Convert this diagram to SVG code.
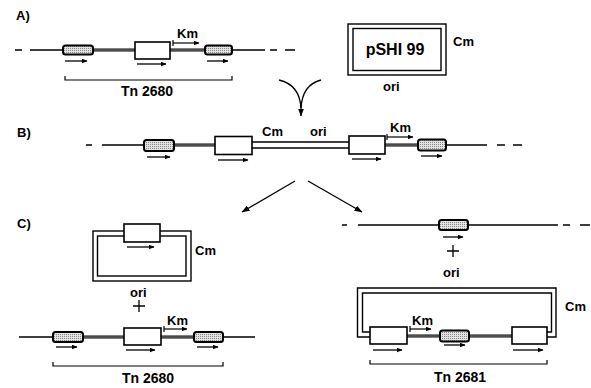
<svg xmlns="http://www.w3.org/2000/svg" width="591" height="388" viewBox="0 0 591 388">
<style>
.ln{stroke:#000;stroke-width:1.3;fill:none}
.tn{stroke:#000;stroke-width:3.2;fill:none}
.tnc{stroke:#aaa;stroke-width:0.9;fill:none}
.pl{stroke:#000;stroke-width:1.4;fill:none}
.gb{fill:url(#stip);stroke:#000;stroke-width:2}
.wb{fill:#fff;stroke:#000;stroke-width:1.6}
.ar{stroke:#000;stroke-width:1.3;fill:none;marker-end:url(#ah)}
.km{stroke:#000;stroke-width:1.2;fill:none;marker-end:url(#ah);marker-start:url(#bar)}
.t{font-family:"Liberation Sans",Arial,sans-serif;font-weight:bold;font-size:13px;fill:#000}
.big{font-size:14px}
.pb{font-size:16px}
.br{stroke:#000;stroke-width:1.2;fill:none}
</style>
<defs>
<pattern id="stip" width="2" height="2" patternUnits="userSpaceOnUse"><rect width="2" height="2" fill="#e2e2e2"/><rect width="1" height="1" fill="#888"/></pattern>
<marker id="ah" markerWidth="6" markerHeight="5" refX="5.5" refY="2.5" orient="auto" markerUnits="userSpaceOnUse"><path d="M0,0 L6,2.5 L0,5 z" fill="#000"/></marker>
<marker id="ah2" markerWidth="8" markerHeight="6" refX="7.5" refY="3" orient="auto" markerUnits="userSpaceOnUse"><path d="M0,0 L8,3 L0,6 z" fill="#000"/></marker>
<marker id="bar" markerWidth="2" markerHeight="6" refX="1" refY="3" orient="auto" markerUnits="userSpaceOnUse"><path d="M1,0 V6" stroke="#000" stroke-width="1.2"/></marker>
</defs>

<!-- Section A -->
<text class="t" x="16" y="20">A)</text>
<g id="a-tn2680">
<path class="ln" d="M15,50 H22 M30,50 H63 M232,50 H265 M270,50 H277 M285,50 H295"/>
<path class="tn" d="M93,50 H135 M170,50 H205"/>
<path class="tnc" d="M93,50 H135 M170,50 H205"/>
<rect class="gb" x="63" y="45.5" width="30" height="9" rx="2.5"/>
<rect class="wb" x="135" y="42" width="35" height="17"/>
<rect class="gb" x="205" y="45.5" width="27" height="9" rx="2.5"/>
<path class="ar" d="M65,61 H87"/>
<path class="ar" d="M137,64 H166"/>
<path class="ar" d="M207,61 H228"/>
<path class="km" d="M173,43 H199"/>
<text class="t" x="177" y="38">Km</text>
<path class="br" d="M65,76 V80 H232 V76"/>
<text class="t big" x="147" y="96" text-anchor="middle">Tn 2680</text>
</g>
<g id="a-pshi99">
<rect class="pl" x="348" y="24" width="98" height="51"/>
<rect class="pl" x="353" y="28.5" width="88" height="42"/>
<text class="t pb" x="395" y="55" text-anchor="middle">pSHI 99</text>
<text class="t" x="453" y="46">Cm</text>
<text class="t" x="383" y="91">ori</text>
</g>

<!-- Section B -->
<text class="t" x="17" y="137">B)</text>
<g id="b-cointegrate">
<path class="ln" d="M86,145 H92 M102,145 H144 M446,145 H487 M497,145 H505 M513,145 H522"/>
<path class="tn" d="M174,145 H215 M385,145 H418"/>
<path class="tnc" d="M174,145 H215 M385,145 H418"/>
<path class="pl" d="M252,142 H349 M252,148 H349"/>
<rect class="gb" x="144" y="140" width="30" height="11" rx="2.5"/>
<rect class="wb" x="215" y="136.5" width="37" height="18"/>
<rect class="wb" x="349" y="136" width="36" height="18"/>
<rect class="gb" x="418" y="139.5" width="28" height="11" rx="2.5"/>
<path class="ar" d="M147,157 H170"/>
<path class="ar" d="M218,160 H248"/>
<path class="ar" d="M352,159 H381"/>
<path class="ar" d="M421,156 H442"/>
<path class="km" d="M387,137 H413"/>
<text class="t" x="390" y="132">Km</text>
<text class="t" x="262" y="136">Cm</text>
<text class="t" x="310" y="136">ori</text>
</g>

<!-- Section C left -->
<text class="t" x="17" y="228">C)</text>
<g id="c-plasmid-left">
<rect class="pl" x="93" y="231" width="98" height="50"/>
<rect class="pl" x="97.5" y="236" width="88.5" height="40"/>
<rect class="wb" x="124" y="224" width="36" height="18"/>
<path class="ar" d="M127,247 H154"/>
<text class="t" x="195" y="255">Cm</text>
<text class="t" x="130" y="297">ori</text>
<path class="ln" d="M139,300 V312 M133,306 H145" stroke-width="1.8"/>
</g>
<g id="c-tn2680">
<path class="ln" d="M19,337 H53 M223,337 H255"/>
<path class="tn" d="M83,337 H124 M161,337 H194"/>
<path class="tnc" d="M83,337 H124 M161,337 H194"/>
<rect class="gb" x="53" y="332" width="30" height="10" rx="2.5"/>
<rect class="wb" x="124" y="328" width="37" height="17"/>
<rect class="gb" x="194" y="332" width="29" height="10" rx="2.5"/>
<path class="ar" d="M56,347 H77"/>
<path class="ar" d="M126,350 H155"/>
<path class="ar" d="M197,347 H218"/>
<path class="km" d="M164,329 H187"/>
<text class="t" x="167" y="325">Km</text>
<path class="br" d="M53,362 V366 H223 V362"/>
<text class="t big" x="148" y="383" text-anchor="middle">Tn 2680</text>
</g>

<!-- Section C right -->
<g id="c-chromosome">
<path class="ln" d="M342,225 H347 M358,225 H439 M468,225 H558 M563,225 H570 M580,225 H590"/>
<rect class="gb" x="439" y="220" width="29" height="10" rx="2.5"/>
<path class="ar" d="M443,237 H463"/>
<path class="ln" d="M453,245 V257 M447,251 H459" stroke-width="1.8"/>
<text class="t" x="443" y="277">ori</text>
</g>
<g id="c-tn2681">
<path class="pl" d="M370,337 H357.5 V288 H556 V337 H547 M370,332 H362.5 V293 H551.5 V332 H547"/>
<path class="tn" d="M407,336 H440 M469,336 H512"/>
<path class="tnc" d="M407,336 H440 M469,336 H512"/>
<rect class="wb" x="370" y="327" width="37" height="17"/>
<rect class="gb" x="440" y="330.5" width="29" height="11" rx="2.5"/>
<rect class="wb" x="512" y="327" width="35" height="17"/>
<path class="ar" d="M373,350 H402"/>
<path class="ar" d="M444,345 H465"/>
<path class="ar" d="M513,350 H543"/>
<path class="km" d="M410,329 H431"/>
<text class="t" x="412" y="325">Km</text>
<text class="t" x="565" y="311">Cm</text>
<path class="br" d="M370,360 V364 H547 V360"/>
<text class="t big" x="460" y="382" text-anchor="middle">Tn 2681</text>
</g>

<!-- Connectors -->
<g id="connectors">
<path class="ln" d="M279,80 C292,83 300,92 301,108 M321,80 C309,83 302,92 301,108"/>
<path class="ln" d="M301,105 V116" marker-end="url(#ah2)"/>
<path class="ln" d="M295,181 L242,212" marker-end="url(#ah2)"/>
<path class="ln" d="M308,181 L362,212" marker-end="url(#ah2)"/>
</g>
</svg>
